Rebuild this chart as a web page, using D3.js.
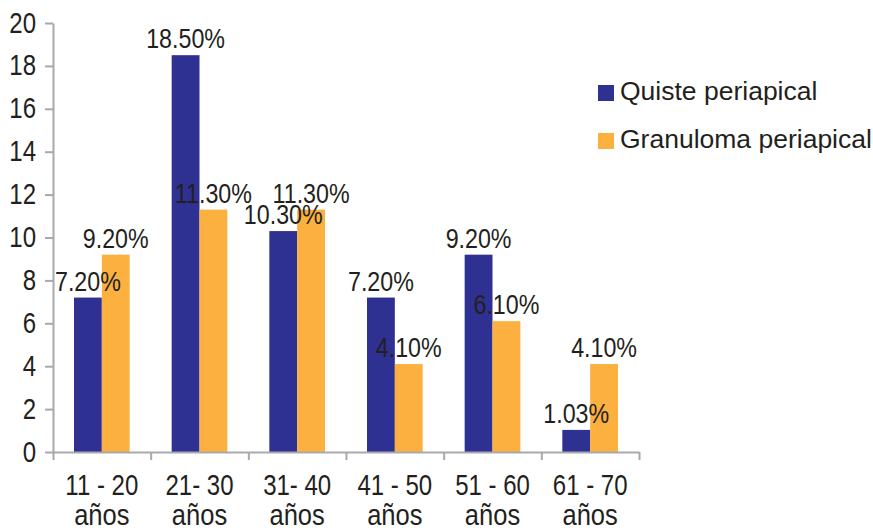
<!DOCTYPE html>
<html>
<head>
<meta charset="utf-8">
<script src="https://cdn.jsdelivr.net/npm/d3@7"></script>
<style>
  body { margin: 0; background: #fff; }
  svg text { font-family: "Liberation Sans", Arial, sans-serif; fill: #231f20; }
</style>
</head>
<body>
<div id="chart" style="width:873px;height:530px;"></div>
<script>
const categories = ['11 - 20', '21- 30', '31- 40', '41 - 50', '51 - 60', '61 - 70'];
const seriesNames = ['Quiste periapical', 'Granuloma periapical'];
const quiste = [7.2, 18.5, 10.3, 7.2, 9.2, 1.03];
const granuloma = [9.2, 11.3, 11.3, 4.1, 6.1, 4.1];
const quisteLabels = ['7.20%', '18.50%', '10.30%', '7.20%', '9.20%', '1.03%'];
const granulomaLabels = ['9.20%', '11.30%', '11.30%', '4.10%', '6.10%', '4.10%'];
const yTicks = [0, 2, 4, 6, 8, 10, 12, 14, 16, 18, 20];

const colors = ['#2e3192', '#fbb040'];
const axisColor = '#a7a9ac';

const element = document.getElementById('chart');
const width = 873;
const height = 530;
const margin = {top: 23, bottom: 78, left: 53, right: 234};
const plotWidth = width - margin.left - margin.right;
const plotHeight = height - margin.top - margin.bottom;

// the original uses a condensed face; squeeze the regular one to match
function condense(sel, k) {
    sel.each(function () {
        const w = this.getComputedTextLength();
        this.setAttribute('textLength', w * k);
        this.setAttribute('lengthAdjust', 'spacingAndGlyphs');
    });
}

const svg = d3.select(element)
    .append('svg')
    .attr('width', width)
    .attr('height', height);

const g = svg.append('g')
    .attr('transform', `translate(${margin.left},${margin.top})`);

const x = d3.scaleBand()
    .domain(categories)
    .range([0, plotWidth])
    .paddingInner(0.43)
    .paddingOuter(0.215);

const bounds = d3.scaleLinear()
    .domain([0, categories.length])
    .range([0, plotWidth]);

const y = d3.scaleLinear()
    .domain([0, 20])
    .range([plotHeight, 0]);

const data = categories.map((c, i) => ({
    cat: c,
    values: [
        {s: 0, v: quiste[i], label: quisteLabels[i]},
        {s: 1, v: granuloma[i], label: granulomaLabels[i]}
    ]
}));

const bw = x.bandwidth() / 2;

// bars
const groups = g.selectAll('.grp')
    .data(data)
    .enter()
    .append('g')
    .attr('class', 'grp')
    .attr('transform', d => `translate(${x(d.cat)},0)`);

groups.selectAll('rect')
    .data(d => d.values)
    .enter()
    .append('rect')
    .attr('x', d => d.s * bw)
    .attr('width', bw)
    .attr('y', d => y(d.v))
    .attr('height', d => plotHeight - y(d.v))
    .attr('fill', d => colors[d.s]);

// y axis
const yAxis = d3.axisLeft(y)
    .tickValues(yTicks)
    .tickSize(8)
    .tickPadding(9)
    .tickSizeOuter(0);

const yg = g.append('g').call(yAxis);
yg.attr('font-family', null);
yg.select('.domain').attr('stroke', axisColor).attr('stroke-width', 2);
yg.selectAll('.tick line').attr('stroke', axisColor).attr('stroke-width', 2);
yg.selectAll('.tick text')
    .attr('font-size', 30)
    .attr('dy', '0.3em')
    .style('fill', '#231f20');
condense(yg.selectAll('.tick text'), 0.8);

// x axis with ticks at category boundaries
const xAxis = d3.axisBottom(bounds)
    .tickValues(d3.range(categories.length + 1))
    .tickSize(8)
    .tickSizeOuter(0)
    .tickFormat('');

const xg = g.append('g')
    .attr('transform', `translate(0,${plotHeight})`)
    .call(xAxis);
xg.select('.domain').attr('stroke', axisColor).attr('stroke-width', 2);
xg.selectAll('.tick line').attr('stroke', axisColor).attr('stroke-width', 2);

// category labels, two lines
const catTop = g.selectAll('.cat')
    .data(categories)
    .enter()
    .append('text')
    .attr('class', 'cat')
    .attr('text-anchor', 'middle')
    .attr('font-size', 30)
    .attr('x', d => x(d) + x.bandwidth() / 2)
    .attr('y', plotHeight + 43)
    .text(d => d);
condense(catTop, 0.8);

const catBottom = g.selectAll('.cat2')
    .data(categories)
    .enter()
    .append('text')
    .attr('class', 'cat2')
    .attr('text-anchor', 'middle')
    .attr('font-size', 30)
    .attr('x', d => x(d) + x.bandwidth() / 2)
    .attr('y', plotHeight + 73)
    .text('años');
condense(catBottom, 0.85);

// value labels
const vals = groups.selectAll('.val')
    .data(d => d.values)
    .enter()
    .append('text')
    .attr('class', 'val')
    .attr('text-anchor', 'middle')
    .attr('font-size', 28)
    .attr('x', d => d.s * bw + bw / 2)
    .attr('y', d => y(d.v) - 7)
    .text(d => d.label);
condense(vals, 0.83);

// legend
const legend = svg.append('g')
    .attr('transform', 'translate(598,85)');

const items = legend.selectAll('.item')
    .data(seriesNames)
    .enter()
    .append('g')
    .attr('class', 'item')
    .attr('transform', (d, i) => `translate(0,${i * 48})`);

items.append('rect')
    .attr('width', 16)
    .attr('height', 16)
    .attr('fill', (d, i) => colors[i]);

items.append('text')
    .attr('x', 22)
    .attr('y', 15)
    .attr('font-size', 26.5)
    .text(d => d);
</script>
</body>
</html>
